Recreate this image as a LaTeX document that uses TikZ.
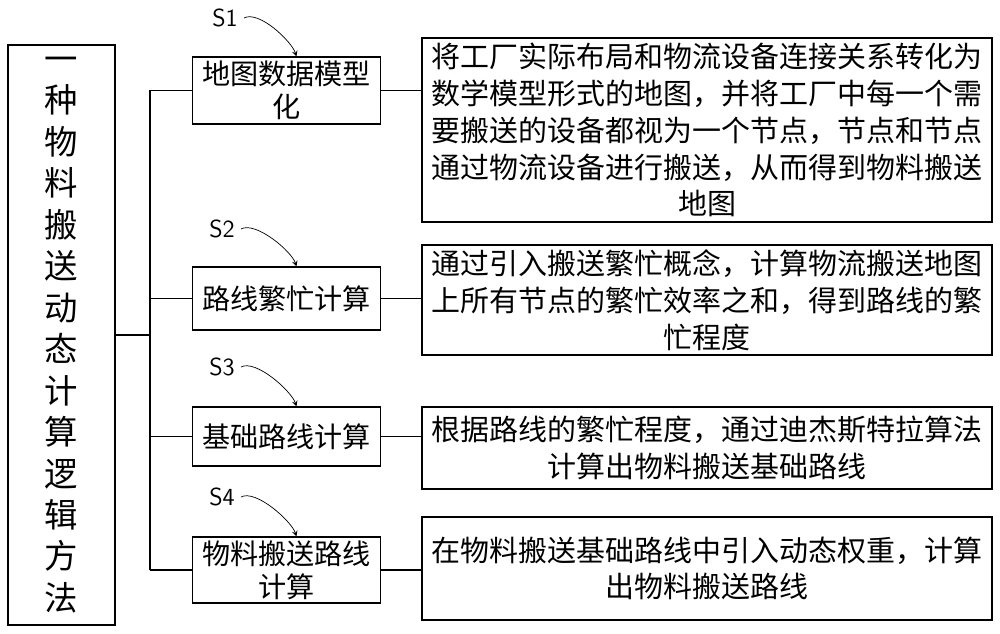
\documentclass[tikz,border=0pt]{standalone}
\usepackage{fontspec}
\newfontfamily\cjk{Noto Sans CJK SC}
\usetikzlibrary{positioning}
\tikzset{
  stepbox/.style={draw, thick, minimum width=3.74cm, text width=3.7cm, align=center, font=\cjk\fontsize{16}{19}\selectfont, inner sep=1pt},
  descbox/.style={draw, thick, minimum width=11.4cm, text width=11.3cm, align=center, font=\cjk\fontsize{16.5}{21}\selectfont, inner sep=1pt},
  steplabel/.style={font=\sffamily\fontsize{14}{16}\selectfont},
  curl/.style={->, >=stealth}
}
\begin{document}
\begin{tikzpicture}[x=0.02cm, y=-0.02cm]
  \useasboundingbox (0,0) rectangle (1000,634);
  % left title
  \node[draw, thick, minimum width=2.14cm, minimum height=11.6cm, font=\cjk\fontsize{19}{23.6}\selectfont, align=center, inner sep=0pt] (title) at (61.5,335)
    {一\\种\\物\\料\\搬\\送\\动\\态\\计\\算\\逻\\辑\\方\\法};
  % steps
  \node[stepbox, minimum height=1.34cm] (s1) at (286.5,90.5) {地图数据模型\\化};
  \node[stepbox, minimum height=1.26cm] (s2) at (286.5,298.5) {路线繁忙计算};
  \node[stepbox, minimum height=1.18cm] (s3) at (286.5,436.5) {基础路线计算};
  \node[stepbox, minimum height=1.32cm] (s4) at (286.5,570) {物料搬送路线\\计算};
  % descriptions
  \node[descbox, minimum height=3.68cm] (d1) at (707,130) {将工厂实际布局和物流设备连接关系转化为\\数学模型形式的地图，并将工厂中每一个需\\要搬送的设备都视为一个节点，节点和节点\\通过物流设备进行搬送，从而得到物料搬送\\地图};
  \node[descbox, minimum height=2.2cm] (d2) at (707,300) {通过引入搬送繁忙概念，计算物流搬送地图\\上所有节点的繁忙效率之和，得到路线的繁\\忙程度};
  \node[descbox, minimum height=1.64cm] (d3) at (707,448) {根据路线的繁忙程度，通过迪杰斯特拉算法\\计算出物料搬送基础路线};
  \node[descbox, minimum height=2.06cm] (d4) at (707,568.5) {在物料搬送基础路线中引入动态权重，计算\\出物料搬送路线};
  % trunk
  \coordinate (trunk) at (150,335);
  \draw[thick] (title.east |- trunk) -- (trunk);
  \draw[thick] (trunk |- s1) -- (trunk |- s4);
  \foreach \s/\d in {s1/d1, s2/d2, s3/d3, s4/d4} {
    \draw[thick] (trunk |- \s) -- (\s.west);
    \draw[thick] (\s.east) -- (\s.east -| \d.west);
  }
  % labels
  \node[steplabel] (l1) at (225,18) {S1};
  \node[steplabel] (l2) at (222,229) {S2};
  \node[steplabel] (l3) at (222,367) {S3};
  \node[steplabel] (l4) at (222,497) {S4};
  \foreach \l/\s in {l1/s1, l2/s2, l3/s3, l4/s4}
    \draw[curl] (\l.east) .. controls +(15,-8) and +(-5,-15) .. ([xshift=0.2cm]\s.north);
\end{tikzpicture}
\end{document}
